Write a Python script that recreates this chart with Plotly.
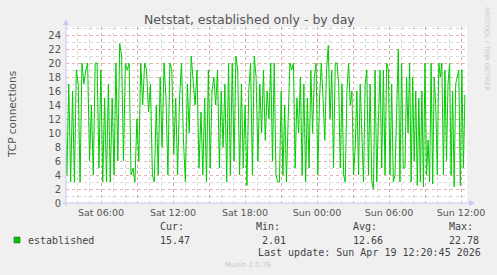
import pandas as pd
import plotly.graph_objects as go

# ---- data (TCP established connections) ----
seg1 = [13, 4, 17, 3, 16, 3, 19, 17, 3, 20, 17, 19, 20, 6, 14, 4, 20, 20, 5, 19, 3, 15, 3, 17, 3, 15, 4, 20, 6, 22.78, 21, 6, 20, 19, 20, 4]
seg2 = [5, 3, 12, 6, 20, 14, 20, 19, 13, 17, 4, 3, 14, 4, 18, 8, 20, 15, 4, 20, 19, 7, 15, 4, 15, 20, 9, 3, 17, 10, 21, 18, 14, 19, 5]
seg3 = [13, 4, 15, 3, 19, 5, 16, 18, 14, 19, 5, 16, 8, 17, 3, 20, 4, 20, 6, 21, 19, 4, 17, 5, 14, 2.5, 16, 20, 4, 21, 18, 6, 17, 10, 19, 9, 16]
seg4 = [12, 20, 6, 20, 4, 3, 3, 16, 4, 14, 3, 12, 20, 19, 20, 5, 15, 10, 18, 4, 17, 3, 15, 5, 19, 10, 18, 20, 4, 15, 20, 15, 9, 19, 22.5, 12, 19, 5, 20]
seg5 = [20, 17, 5, 17, 4, 3, 16, 20, 14, 16, 4, 8, 16, 4, 17, 8, 3, 17, 19, 4, 17, 3, 2.01, 19, 3, 12, 19, 5, 19, 4, 20, 19, 4, 17, 3, 4, 15, 22, 3, 20, 5]
seg6 = [5, 18, 10, 20, 3, 18, 6, 16, 2.5, 15, 3, 16, 2.3, 20, 4, 9, 3, 20, 2.7, 18, 14, 4, 20, 18, 20, 4, 19, 6, 17, 20, 4, 16, 2.3, 17, 18, 19, 2.5, 19, 5, 15.47]
seg_bounds = ["2026-04-18 03:00", "2026-04-18 08:40", "2026-04-18 14:20", "2026-04-18 20:00",
              "2026-04-19 01:40", "2026-04-19 07:20", "2026-04-19 12:20"]
x_ticks = ["2026-04-18 06:00", "2026-04-18 12:00", "2026-04-18 18:00",
           "2026-04-19 00:00", "2026-04-19 06:00", "2026-04-19 12:00"]
x_ticklabels = ["Sat 06:00", "Sat 12:00", "Sat 18:00", "Sun 00:00", "Sun 06:00", "Sun 12:00"]
series_name = "established"
stats = {"Cur:": "15.47", "Min:": "2.01", "Avg:": "12.66", "Max:": "22.78"}

# build timestamps per segment
segs = [seg1, seg2, seg3, seg4, seg5, seg6]
times, vals = [], []
for i, s in enumerate(segs):
    t0 = pd.Timestamp(seg_bounds[i]); t1 = pd.Timestamp(seg_bounds[i + 1])
    n = len(s)
    last = i == len(segs) - 1
    step = (t1 - t0) / (n - 1 if last else n)
    for k, v in enumerate(s):
        times.append(t0 + step * k); vals.append(v)

x_start = pd.Timestamp("2026-04-18 03:05")
x_end = pd.Timestamp("2026-04-19 12:30")

# major grid every 3h (labels every 6h)
major = pd.date_range("2026-04-18 06:00", "2026-04-19 12:00", freq="3h")
major_text = [x_ticklabels[x_ticks.index(t.strftime("%Y-%m-%d %H:%M"))] if t.strftime("%Y-%m-%d %H:%M") in x_ticks else "" for t in major]

TXT = "#555555"
MAJ = "rgba(225,150,150,0.75)"
MIN = "rgba(200,200,200,0.75)"
fig = go.Figure()
fig.add_trace(go.Scatter(x=times, y=vals, mode="lines", line=dict(color="#00CC00", width=1),
                         hoverinfo="skip", showlegend=False))

L, R, T, B = 66, 467, 27, 203
W, H = 497, 275
def px(x): return (x - L) / (R - L)
def py(y): return (B - y) / (B - T)

fig.update_layout(
    width=W, height=H, margin=dict(l=L, r=W - R, t=T, b=H - B),
    paper_bgcolor="#F0F0F0", plot_bgcolor="#FFFFFF",
    font=dict(family="DejaVu Sans", color=TXT, size=10),
    xaxis=dict(range=[x_start, x_end], tickmode="array", tickvals=list(major), ticktext=major_text,
               showgrid=True, gridcolor=MAJ, griddash="dot", gridwidth=1,
               minor=dict(dtick=3600000, tick0="2026-04-18 00:00", showgrid=True,
                          gridcolor=MIN, griddash="dot", gridwidth=1),
               tickfont=dict(size=9.5, color=TXT), ticks="", zeroline=False,
               showline=False, ticklabelstandoff=2),
    yaxis=dict(range=[0, 25.15], tickmode="linear", tick0=0, dtick=2,
               showgrid=True, gridcolor=MAJ, griddash="dot", gridwidth=1,
               minor=dict(dtick=1, showgrid=True, gridcolor=MIN, griddash="dot"),
               tickfont=dict(size=10, color=TXT), ticks="", zeroline=False, showline=False,
               ticklabelstandoff=4),
)

AX = "#C8C8F0"
shapes = [
    dict(type="line", xref="paper", yref="paper", x0=px(L), x1=px(L), y0=py(B + 3), y1=py(24), line=dict(color=AX, width=1)),
    dict(type="line", xref="paper", yref="paper", x0=px(L - 3), x1=px(471), y0=py(B), y1=py(B), line=dict(color=AX, width=1)),
    dict(type="path", xref="paper", yref="paper",
         path=f"M {px(L-3)},{py(25)} L {px(L+3)},{py(25)} L {px(L)},{py(19)} Z",
         fillcolor=AX, line=dict(color=AX, width=0)),
    dict(type="path", xref="paper", yref="paper",
         path=f"M {px(469)},{py(B-3)} L {px(469)},{py(B+3)} L {px(475)},{py(B)} Z",
         fillcolor=AX, line=dict(color=AX, width=0)),
    # legend swatch
    dict(type="rect", xref="paper", yref="paper", x0=px(14), x1=px(20), y0=py(243), y1=py(237),
         fillcolor="#00CC00", line=dict(color="#333333", width=0.5)),
]
fig.update_layout(shapes=shapes)

MONO = "DejaVu Sans Mono"
ann = [
    dict(text="Netstat, established only - by day", x=px(249), y=py(19), xanchor="center", yanchor="middle",
         font=dict(size=12.5, color=TXT)),
    dict(text="TCP connections", x=px(12), y=py(115), textangle=-90, xanchor="center", yanchor="middle",
         font=dict(size=10.5, color=TXT)),
    dict(text=series_name, x=px(26), y=py(240), xanchor="left", yanchor="middle",
         font=dict(family=MONO, size=10, color="#444444")),
    dict(text="Last update: Sun Apr 19 12:20:45 2026", x=px(483), y=py(252), xanchor="right", yanchor="middle",
         font=dict(family=MONO, size=10, color="#444444")),
    dict(text="Munin 2.0.76", x=px(248), y=py(265), xanchor="center", yanchor="middle",
         font=dict(size=7, color="#C8C8C8")),
    dict(text="RRDTOOL / TOBI OETIKER", x=px(487), y=py(5), textangle=90, xanchor="center", yanchor="top",
         font=dict(size=6.5, color="#C8C8C8")),
]
col_x = [158, 254, 351, 447]
val_x = [158, 260, 351, 447]
for (h, v), cx, vx in zip(stats.items(), col_x, val_x):
    ann.append(dict(text=h, x=px(cx), y=py(227), xanchor="left", yanchor="middle",
                    font=dict(family=MONO, size=10, color="#444444")))
    ann.append(dict(text=v, x=px(vx), y=py(240), xanchor="left", yanchor="middle",
                    font=dict(family=MONO, size=10, color="#444444")))
for a in ann:
    a.update(xref="paper", yref="paper", showarrow=False)
fig.update_layout(annotations=ann)

fig.write_html("out.html")
